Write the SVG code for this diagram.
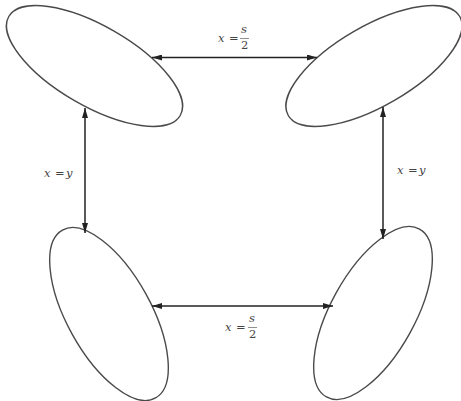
<svg xmlns="http://www.w3.org/2000/svg" width="461" height="401" viewBox="0 0 461 401">
<style>
.node ellipse{fill:none;stroke:#4a4a4a;stroke-width:1.4}
.edge{stroke:#222;stroke-width:1.5;fill:none;marker-start:url(#ah);marker-end:url(#ah)}
.lbl{font-family:"DejaVu Serif","Liberation Serif",serif;font-style:italic;font-size:11.5px;fill:#444}
.op{font-family:"DejaVu Serif","Liberation Serif",serif;font-size:11.5px;fill:#444}
</style>
<defs>
<marker id="ah" viewBox="0 0 10 6" refX="10" refY="3" markerWidth="10" markerHeight="6" markerUnits="userSpaceOnUse" orient="auto-start-reverse">
<path d="M0,0 L10,3 L0,6 Z" fill="#222"/>
</marker>
</defs>
<g id="node-tl" class="node"><ellipse cx="94.5" cy="66" rx="99" ry="40" transform="rotate(30 94.5 66)"/></g>
<g id="node-tr" class="node"><ellipse cx="374" cy="66" rx="99" ry="40" transform="rotate(-30 374 66)"/></g>
<g id="node-bl" class="node"><ellipse cx="109" cy="314" rx="96" ry="42" transform="rotate(61 109 314)"/></g>
<g id="node-br" class="node"><ellipse cx="373" cy="313" rx="96" ry="42" transform="rotate(-61 373 313)"/></g>
<g id="connectors">
<line class="edge" x1="152" y1="57.5" x2="317" y2="57.5"/>
<line class="edge" x1="152" y1="306" x2="333" y2="306"/>
<line class="edge" x1="85" y1="108" x2="85" y2="233"/>
<line class="edge" x1="383" y1="107" x2="383" y2="239"/>
</g>
<g id="labels">
<text class="lbl" x="218" y="42">x</text><text class="op" x="229" y="42">=</text>
<text class="lbl" x="241" y="33">s</text><line x1="240" y1="38.5" x2="249" y2="38.5" stroke="#444" stroke-width="0.6"/><text class="op" x="241" y="49">2</text>
<text class="lbl" x="225" y="331">x</text><text class="op" x="236" y="331">=</text>
<text class="lbl" x="249" y="322">s</text><line x1="248" y1="327.5" x2="257" y2="327.5" stroke="#444" stroke-width="0.6"/><text class="op" x="249" y="338">2</text>
<text class="lbl" x="44" y="177">x</text><text class="op" x="55" y="177">=</text><text class="lbl" x="66" y="177">y</text>
<text class="lbl" x="397" y="174">x</text><text class="op" x="408" y="174">=</text><text class="lbl" x="419" y="174">y</text>
</g>
</svg>
